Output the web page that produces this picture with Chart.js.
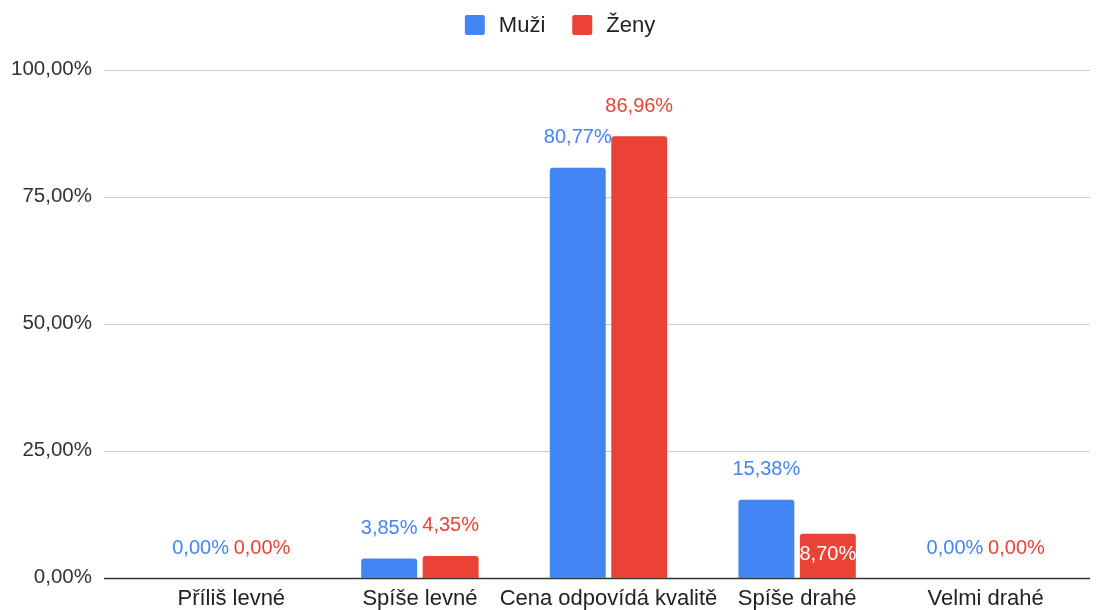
<!DOCTYPE html>
<html><head><meta charset="utf-8">
<script src="https://cdn.jsdelivr.net/npm/chart.js@4/dist/chart.umd.min.js"></script>
<style>html,body{margin:0;padding:0;background:#fff;}#wrap{width:1102px;height:610px;}</style>
</head><body><div id="wrap"><canvas id="c" width="1102" height="610"></canvas></div>
<script>
const categories = ["Příliš levné", "Spíše levné", "Cena odpovídá kvalitě", "Spíše drahé", "Velmi drahé"];
const seriesNames = ["Muži", "Ženy"];
const muzi = [0.00, 3.85, 80.77, 15.38, 0.00];
const zeny = [0.00, 4.35, 86.96, 8.70, 0.00];
const yTicks = [0, 25, 50, 75, 100];
const colors = ["#4285F4", "#EA4335"];
const insideLabels = [[1, 3]];

const FONT = "'Liberation Sans', Arial, Helvetica, sans-serif";
const fmt = v => v.toFixed(2).replace('.', ',') + '%';

const gridPlugin = {
  id: 'grid',
  beforeDatasetsDraw(chart) {
    const {ctx, chartArea, scales: {y}} = chart;
    const x0 = chartArea.left - 33, x1 = chartArea.right + 10;
    ctx.save();
    yTicks.forEach(v => {
      const py = Math.round(y.getPixelForValue(v)) + 0.5;
      ctx.beginPath();
      ctx.strokeStyle = v === 0 ? '#333333' : '#cccccc';
      ctx.lineWidth = v === 0 ? 1.5 : 1;
      ctx.moveTo(x0, py); ctx.lineTo(x1, py); ctx.stroke();
    });
    ctx.restore();
  }
};

const legendPlugin = {
  id: 'customLegend',
  afterDraw(chart) {
    const {ctx} = chart;
    const fs = 22, box = 20, gapText = 14, gapItem = 27, cx = 560, cy = 25;
    ctx.save();
    ctx.font = fs + "px " + FONT;
    ctx.textBaseline = 'middle';
    const items = chart.data.datasets.map((ds, i) => ({text: ds.label, color: ds.backgroundColor, w: box + gapText + ctx.measureText(ds.label).width}));
    const total = items.reduce((s, it) => s + it.w, 0) + gapItem * (items.length - 1);
    let x = cx - total / 2;
    items.forEach(it => {
      ctx.fillStyle = it.color;
      ctx.beginPath();
      ctx.roundRect(x, cy - box / 2, box, box, 2);
      ctx.fill();
      ctx.fillStyle = '#222222';
      ctx.fillText(it.text, x + box + gapText, cy + 1);
      x += it.w + gapItem;
    });
    ctx.restore();
  }
};

const labelPlugin = {
  id: 'vlabels',
  afterDatasetsDraw(chart) {
    const {ctx} = chart;
    ctx.save();
    ctx.font = "20px " + FONT;
    ctx.textAlign = 'center';
    ctx.textBaseline = 'middle';
    chart.data.datasets.forEach((ds, di) => {
      const meta = chart.getDatasetMeta(di);
      meta.data.forEach((el, i) => {
        const inside = insideLabels.some(p => p[0] === di && p[1] === i);
        const txt = fmt(ds.data[i]);
        if (inside) {
          ctx.fillStyle = '#ffffff';
          ctx.fillText(txt, el.x, el.y + 21);
        } else {
          ctx.fillStyle = colors[di];
          ctx.fillText(txt, el.x, el.y - 30);
        }
      });
    });
    ctx.restore();
  }
};

new Chart(document.getElementById('c'), {
  type: 'bar',
  data: {
    labels: categories,
    datasets: [
      {label: seriesNames[0], data: muzi, backgroundColor: colors[0], borderRadius: 3, borderSkipped: 'bottom'},
      {label: seriesNames[1], data: zeny, backgroundColor: colors[1], borderRadius: 3, borderSkipped: 'bottom'}
    ]
  },
  options: {
    responsive: false,
    animation: false,
    devicePixelRatio: 1,
    layout: {padding: {left: 0, right: 22, top: 70, bottom: 0}},
    datasets: {bar: {categoryPercentage: 0.652, barPercentage: 0.91}},
    plugins: {
      legend: {display: false},
      tooltip: {enabled: false}
    },
    scales: {
      x: {
        grid: {display: false, drawTicks: false},
        border: {display: false},
        ticks: {font: {family: FONT, size: 22}, color: '#222222', padding: 8, maxRotation: 0, minRotation: 0, autoSkip: false},
        afterFit(s) { s.height = 32; s.paddingLeft = 0; s.paddingRight = 0; }
      },
      y: {
        min: 0, max: 100,
        grid: {display: false, drawTicks: false},
        border: {display: false},
        afterBuildTicks(s) { s.ticks = yTicks.map(v => ({value: v})); },
        ticks: {font: {family: FONT, size: 20.5}, color: '#333333', padding: 45, labelOffset: -1, callback: v => fmt(v)},
        afterFit(s) { s.width = 137; s.paddingTop = 0; s.paddingBottom = 0; }
      }
    }
  },
  plugins: [gridPlugin, labelPlugin, legendPlugin]
});
</script></body></html>
